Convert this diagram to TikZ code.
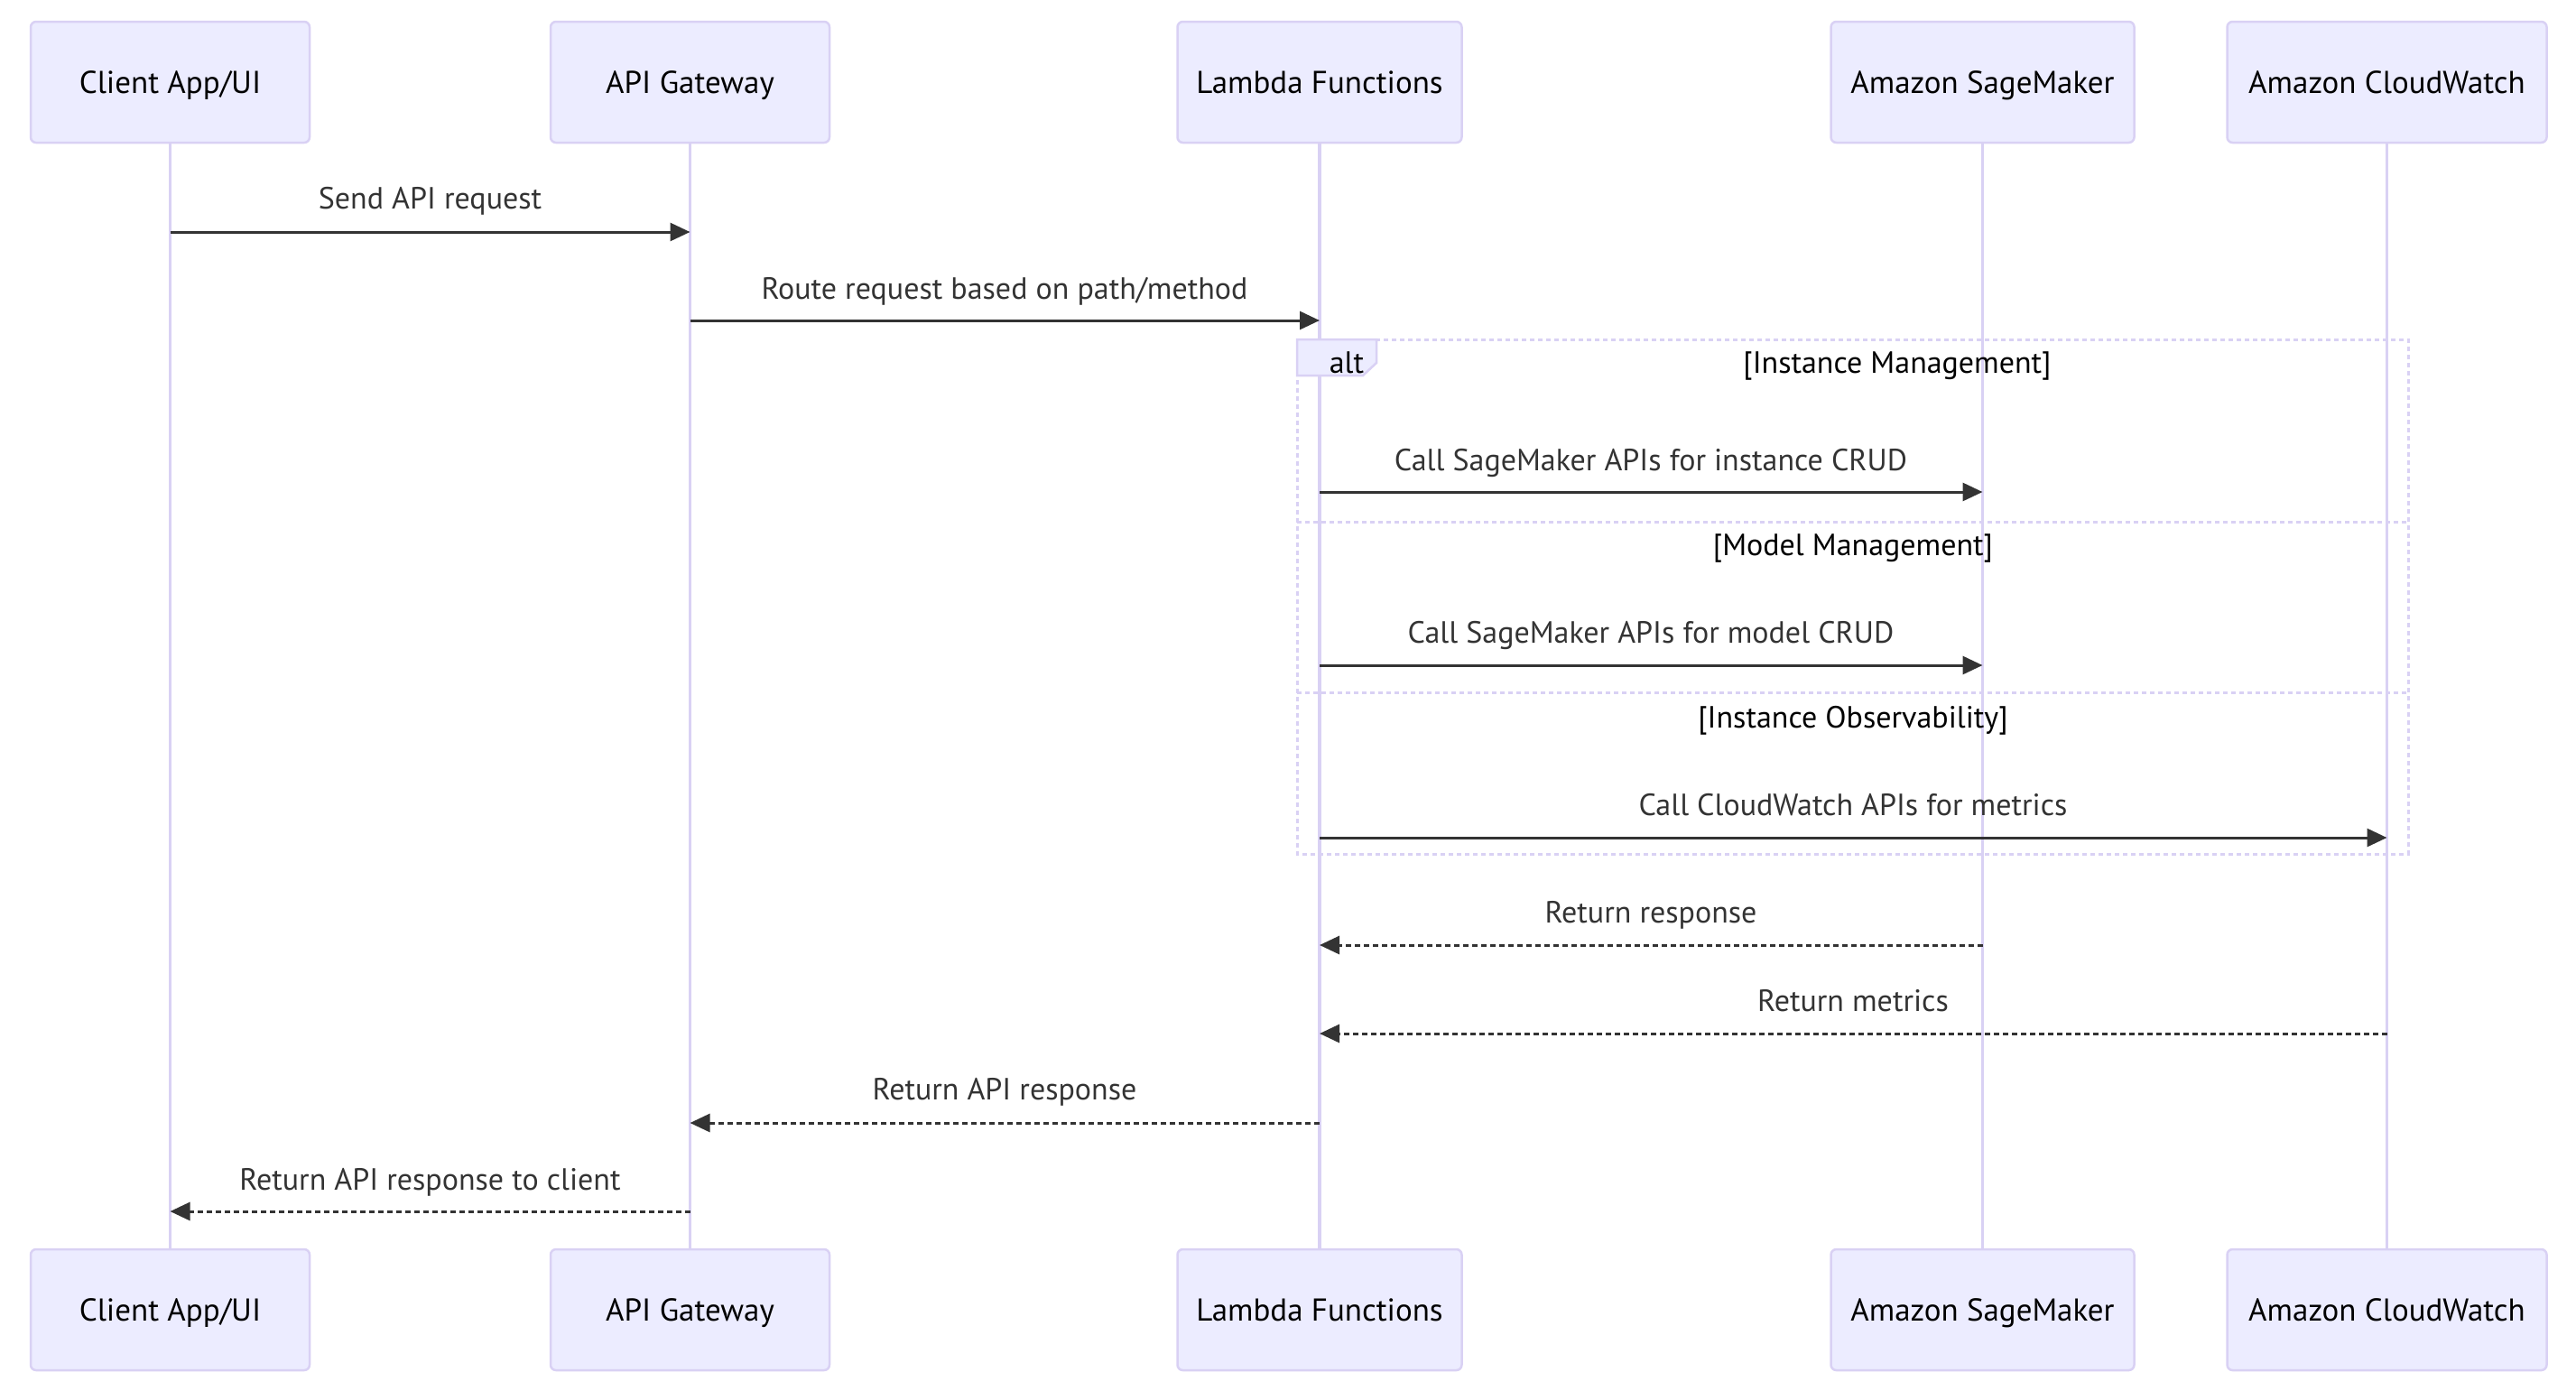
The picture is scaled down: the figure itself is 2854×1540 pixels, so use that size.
\documentclass[tikz,border=0pt]{standalone}
\usepackage{fontspec}
\setmainfont{PT Sans}
\usetikzlibrary{arrows.meta}
\definecolor{actfill}{HTML}{ECECFF}
\definecolor{actline}{HTML}{D9D1F4}
\definecolor{msg}{HTML}{333333}
\begin{document}
\begin{tikzpicture}[x=1pt,y=-1pt,
  actor/.style={draw=actline,line width=2.5pt,fill=actfill,rounded corners=6pt,minimum width=#1,minimum height=134pt,inner sep=0pt,text height=31pt,text depth=7pt,font=\fontsize{35}{42}\selectfont},
  life/.style={draw=actline,line width=3.5pt},
  msgline/.style={draw=msg,line width=3pt,-{Triangle[length=22pt,width=20pt]}},
  retline/.style={msgline,dash pattern=on 6pt off 4pt},
  lbl/.style={text=msg,font=\fontsize{34}{40}\selectfont,inner sep=0pt,text height=31pt,text depth=7pt},
  sect/.style={text=black,font=\fontsize{34}{40}\selectfont,inner sep=0pt,text height=31pt,text depth=7pt},
  frame/.style={draw=actline,line width=3pt,dash pattern=on 5pt off 4pt}
]
\useasboundingbox (0,0) rectangle (2854,1540);
% participants top
\node[actor=309pt] (c1) at (188.5,91) {Client App/UI};
\node[actor=309pt] (g1) at (764.5,91) {API Gateway};
\node[actor=315pt] (l1) at (1462,91) {Lambda Functions};
\node[actor=336pt] (s1) at (2196.5,91) {Amazon SageMaker};
\node[actor=354pt] (w1) at (2644.5,91) {Amazon CloudWatch};
% participants bottom
\node[actor=309pt] (c2) at (188.5,1451) {Client App/UI};
\node[actor=309pt] (g2) at (764.5,1451) {API Gateway};
\node[actor=315pt] (l2) at (1462,1451) {Lambda Functions};
\node[actor=336pt] (s2) at (2196.5,1451) {Amazon SageMaker};
\node[actor=354pt] (w2) at (2644.5,1451) {Amazon CloudWatch};
% lifelines
\draw[life] (c1.south) -- (c2.north);
\draw[life] (g1.south) -- (g2.north);
\draw[life] (l1.south) -- (l2.north);
\draw[life] (s1.south) -- (s2.north);
\draw[life] (w1.south) -- (w2.north);
% alt frame
\coordinate (fTL) at (1437,376);
\coordinate (fBR) at (2668,946);
\draw[frame] (fTL) rectangle (fBR);
\draw[frame] (1437,578) -- (2668,578);
\draw[frame] (1437,767) -- (2668,767);
\draw[draw=actline,line width=2.5pt,fill=actfill] (1437,376) -- (1525,376) -- (1525,402) -- (1510,416) -- (1437,416) -- cycle;
\node[sect,anchor=center] (altl) at (1492,401) {alt};
\node[sect] (sec1) at (2102,401) {[Instance Management]};
\node[sect] (sec2) at (2053,603) {[Model Management]};
\node[sect] (sec3) at (2053,794) {[Instance Observability]};
% message anchors
\coordinate (m1a) at (c1.south |- 0,257); \coordinate (m1b) at (g1.south |- 0,257);
\coordinate (m2a) at (g1.south |- 0,355); \coordinate (m2b) at (l1.south |- 0,355);
\coordinate (m3a) at (l1.south |- 0,545); \coordinate (m3b) at (s1.south |- 0,545);
\coordinate (m4a) at (l1.south |- 0,737); \coordinate (m4b) at (s1.south |- 0,737);
\coordinate (m5a) at (l1.south |- 0,928); \coordinate (m5b) at (w1.south |- 0,928);
\coordinate (m6a) at (s1.south |- 0,1047); \coordinate (m6b) at (l1.south |- 0,1047);
\coordinate (m7a) at (w1.south |- 0,1145); \coordinate (m7b) at (l1.south |- 0,1145);
\coordinate (m8a) at (l1.south |- 0,1244); \coordinate (m8b) at (g1.south |- 0,1244);
\coordinate (m9a) at (g1.south |- 0,1342); \coordinate (m9b) at (c1.south |- 0,1342);
\draw[msgline] (m1a) -- (m1b);
\draw[msgline] (m2a) -- (m2b);
\draw[msgline] (m3a) -- (m3b);
\draw[msgline] (m4a) -- (m4b);
\draw[msgline] (m5a) -- (m5b);
\draw[retline] (m6a) -- (m6b);
\draw[retline] (m7a) -- (m7b);
\draw[retline] (m8a) -- (m8b);
\draw[retline] (m9a) -- (m9b);
\node[lbl] (t1) at (476.5,219) {Send API request};
\node[lbl] (t2) at (1113,319) {Route request based on path/method};
\node[lbl] (t3) at (1829,509) {Call SageMaker APIs for instance CRUD};
\node[lbl] (t4) at (1829,700) {Call SageMaker APIs for model CRUD};
\node[lbl] (t5) at (2053,891) {Call CloudWatch APIs for metrics};
\node[lbl] (t6) at (1829,1010) {Return response};
\node[lbl] (t7) at (2053,1108) {Return metrics};
\node[lbl] (t8) at (1113,1206) {Return API response};
\node[lbl] (t9) at (476.5,1306) {Return API response to client};
\end{tikzpicture}
\end{document}
